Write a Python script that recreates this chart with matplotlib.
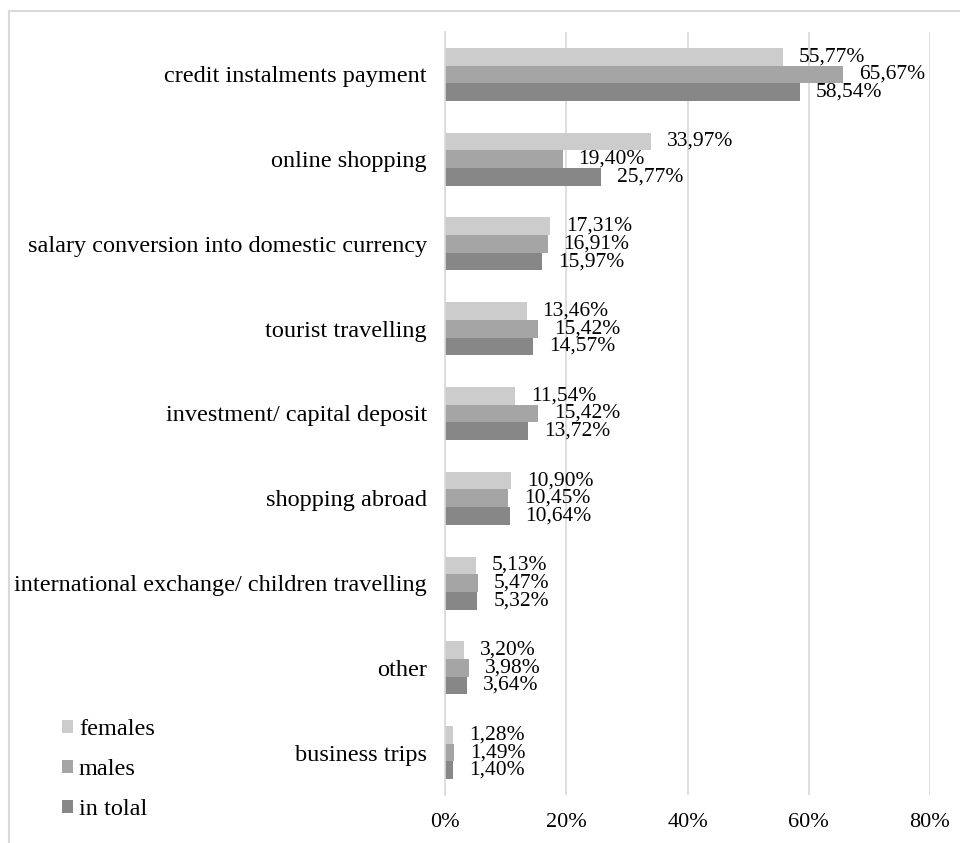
import numpy as np
import matplotlib.pyplot as plt
from matplotlib.patches import Rectangle

plt.rcParams['font.family'] = ['Liberation Serif', 'DejaVu Serif']

categories = ["credit instalments payment", "online shopping",
              "salary conversion into domestic currency", "tourist travelling",
              "investment/ capital deposit", "shopping abroad",
              "international exchange/ children travelling", "other", "business trips"]
females = [55.77, 33.97, 17.31, 13.46, 11.54, 10.90, 5.13, 3.20, 1.28]
males = [65.67, 19.40, 16.91, 15.42, 15.42, 10.45, 5.47, 3.98, 1.49]
in_total = [58.54, 25.77, 15.97, 14.57, 13.72, 10.64, 5.32, 3.64, 1.40]
series = [("females", females, "#cccccc"), ("males", males, "#a5a5a5"), ("in tolal", in_total, "#878787")]
xticks = [0, 20, 40, 60, 80]

fig = plt.figure(figsize=(9.6, 8.43), dpi=100)
ax = fig.add_axes([445/960, 1 - 795/843, (930-445)/960, (795-32)/843])

# cadre gris clair autour du graphique
fig.patches.append(Rectangle((9/960, -0.05), 1.2, 1 - 11/843 + 0.05, transform=fig.transFigure,
                             fill=False, edgecolor="#d9d9d9", linewidth=1.5))

y = np.arange(len(categories))
h = 0.208
for i, (name, vals, col) in enumerate(series):
    pos = y + (i - 1) * h
    ax.barh(pos, vals, height=h, color=col, label=name, zorder=2)
    for p, v in zip(pos, vals):
        ax.annotate(f"{v:.2f}%".replace(".", ","), (v, p), xytext=(11.5, 0), textcoords="offset points",
                    va="center", ha="left", fontsize=15.5)

ax.set_ylim(len(categories) - 0.5, -0.5)
ax.set_xlim(0, 80)
ax.set_yticks(y)
ax.set_yticklabels(categories, fontsize=17.5)
ax.set_xticks(xticks)
ax.set_xticklabels([f"{t}%" for t in xticks], fontsize=16)
ax.tick_params(axis="both", length=0)
ax.tick_params(axis="y", pad=13)
ax.tick_params(axis="x", pad=13)
ax.grid(axis="x", color="#d9d9d9", linewidth=1.2, zorder=0)
for s in ["top", "right", "bottom"]:
    ax.spines[s].set_visible(False)
ax.spines["left"].set_color("#d9d9d9")
ax.spines["left"].set_linewidth(1.2)

fig.legend(loc="lower left", bbox_to_anchor=(62/960, 1 - 820/843), frameon=False, fontsize=17.5,
           borderpad=0, borderaxespad=0,
           handlelength=0.45, handleheight=0.45, handletextpad=0.25, labelspacing=0.78)

plt.savefig("out.png", dpi=100)
